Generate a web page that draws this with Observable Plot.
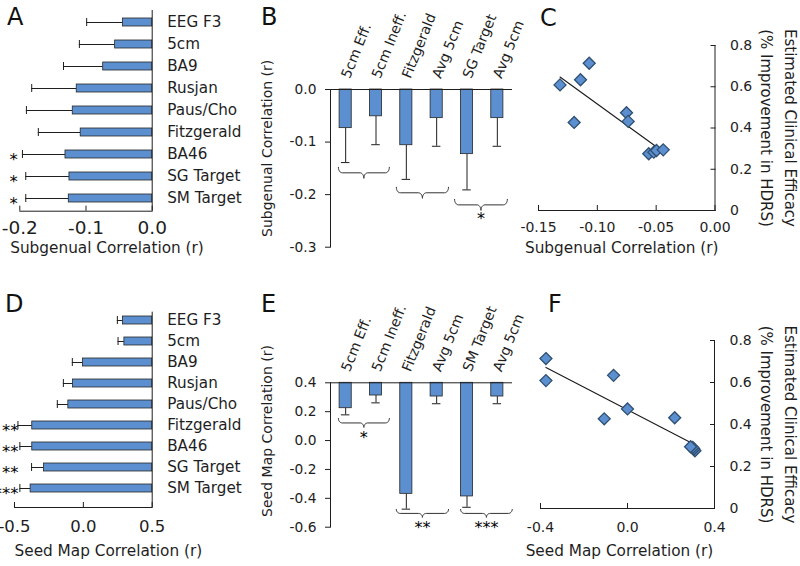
<!DOCTYPE html>
<html><head><meta charset="utf-8">
<script src="https://cdn.jsdelivr.net/npm/d3@7"></script>
<script src="https://cdn.jsdelivr.net/npm/@observablehq/plot@0.6"></script>
<style>
body{margin:0;background:#fff;}
#wrap{position:relative;width:800px;height:566px;overflow:hidden;font-family:"DejaVu Sans",Verdana,sans-serif;background:#fff;}
.letter{position:absolute;font-size:24px;line-height:24px;color:#111;}
</style></head><body><div id="wrap">
<div class="letter" style="left:7px;top:5px">A</div>
<div class="letter" style="left:261px;top:5px">B</div>
<div class="letter" style="left:540px;top:6px">C</div>
<div class="letter" style="left:5px;top:292px">D</div>
<div class="letter" style="left:261px;top:292px">E</div>
<div class="letter" style="left:548px;top:292px">F</div>
</div>
<script>
// ---------- data ----------
const targets = ["EEG F3","5cm","BA9","Rusjan","Paus/Cho","Fitzgerald","BA46","SG Target","SM Target"];
const subgenualR   = [-0.044,-0.056,-0.074,-0.114,-0.120,-0.108,-0.131,-0.125,-0.126];
const subgenualErr = [-0.099,-0.110,-0.134,-0.182,-0.190,-0.172,-0.196,-0.191,-0.191];
const subgenualSig = ["","","","","","","*","*","*"];
const seedMapR   = [0.288,0.298,-0.003,-0.075,-0.109,-0.371,-0.371,-0.286,-0.383];
const seedMapErr = [0.247,0.252,-0.080,-0.145,-0.189,-0.475,-0.461,-0.376,-0.461];
const seedMapSig = ["","","","","","**","**","**","***"];

const compareB     = ["5cm Eff.","5cm Ineff.","Fitzgerald","Avg 5cm","SG Target","Avg 5cm"];
const compareBR    = [-0.0735,-0.051,-0.106,-0.0545,-0.123,-0.0545];
const compareBErr  = [-0.139,-0.105,-0.171,-0.108,-0.191,-0.108];
const compareE     = ["5cm Eff.","5cm Ineff.","Fitzgerald","Avg 5cm","SM Target","Avg 5cm"];
const compareER    = [0.224,0.312,-0.369,0.305,-0.387,0.305];
const compareEErr  = [0.178,0.261,-0.475,0.255,-0.462,0.255];
// significance braces: centre & half-width in bar-index units, top level & depth in r units
const bracesB = [
  {cx:0.60, hw:0.84, top:-0.148, depth:0.021, star:""},
  {cx:2.53, hw:0.86, top:-0.186, depth:0.021, star:""},
  {cx:4.46, hw:0.87, top:-0.209, depth:0.021, star:"*"}];
const bracesE = [
  {cx:0.60, hw:0.84, top:0.153, depth:0.062, star:"*"},
  {cx:2.53, hw:0.86, top:-0.477, depth:0.055, star:"**"},
  {cx:4.64, hw:0.85, top:-0.477, depth:0.055, star:"***"}];

const efficacy         = [0.609,0.714,0.634,0.427,0.474,0.432,0.275,0.283,0.291,0.294];
const subgenualScatter = [-0.1317,-0.1069,-0.1143,-0.1197,-0.0752,-0.0738,-0.0563,-0.0520,-0.0497,-0.0440];
const seedMapScatter   = [-0.375,-0.375,-0.064,-0.107,0.000,0.217,0.310,0.305,0.300,0.290];

const xTicksA = [-0.2,-0.1,0.0];
const xTicksD = [-0.5,0.0,0.5];
const yTicksB = [0.0,-0.1,-0.2,-0.3];
const yTicksE = [0.4,0.2,0.0,-0.2,-0.4,-0.6];
const xTicksC = [-0.15,-0.10,-0.05,0.00];
const xTicksF = [-0.4,0.0,0.4];
const effTicks = [0,0.2,0.4,0.6,0.8];

// ---------- style ----------
const BLUE = "#5b8fcf", EDGE = "#262626", INK = "#1e1e1e", DIAMOND_EDGE = "#2f4f70";
const FONT = '"DejaVu Sans", Verdana, sans-serif';
const STYLE = {fontFamily: FONT, fontSize: "15px", color: INK, background: "transparent", overflow: "visible"};
const wrap = document.getElementById("wrap");
function place(svg, left, top){ svg.style.position="absolute"; svg.style.left=left+"px"; svg.style.top=top+"px"; wrap.appendChild(svg); }
const fmt1 = d => d.toFixed(1);
const fmt2 = d => d.toFixed(2);
const fmtEff = d => d === 0 ? "0" : d.toFixed(1);

// ---------- horizontal bar panels (A, D) ----------
function hbar({values, errs, sigs, domain, ticks, base, title, W, H, mL, mR, mT, mB, pI, pO, align, tickPad, tickFont, starDx, titleDx, titleDy}) {
  const data = targets.map((t,k)=>({t, r: values[k], e: errs[k], s: sigs[k]}));
  return Plot.plot({
    width: W, height: H, marginLeft: mL, marginRight: mR, marginTop: mT, marginBottom: mB,
    style: STYLE,
    x: {domain},
    y: {domain: targets, paddingInner: pI, paddingOuter: pO, align},
    marks: [
      Plot.ruleY(data, {y:"t", x1:"r", x2:"e", stroke: INK}),
      Plot.tickX(data, {x:"e", y:"t", stroke: INK}),
      Plot.barX(data, {y:"t", x1: base, x2:"r", fill: BLUE, stroke: EDGE, strokeWidth: 0.8}),
      Plot.ruleX([base], {stroke: INK}),
      Plot.frame({anchor:"bottom", stroke: INK}),
      Plot.axisX({ticks, tickSize:5, dy:-5, tickFormat: () => "", label:null, stroke: INK}),
      Plot.axisX({ticks, tickSize:0, tickPadding: tickPad, tickFormat: fmt1, fontSize: tickFont, label:null, fill: INK}),
      Plot.axisY({anchor:"right", tickSize:0, tickPadding:15, fontSize:15.2, label:null, fill: INK}),
      Plot.text(data.filter(d=>d.s), {y:"t", text:"s", frameAnchor:"left", textAnchor:"end", lineAnchor:"middle", dx: starDx, dy:5, fontSize:16.5, fill: "#000"}),
      Plot.text([title], {frameAnchor:"bottom", textAnchor:"middle", lineAnchor:"middle", dx: titleDx, dy: titleDy, fontSize:15.3, fill: INK})
    ]
  });
}

// ---------- vertical comparison panels (B, E) ----------
function bracePath(b, id) {
  const r = 0.15, pts = [];
  const P = (u, v) => pts.push({id, x: b.cx + u*b.hw, y: b.top - v*b.depth});
  const n = 8;
  for (let k=0;k<=n;k++){ const t=Math.PI - k*(Math.PI/2)/n; P((-1+r)+r*Math.cos(t), 0.5*Math.sin(t)); }
  for (let k=0;k<=n;k++){ const t=-Math.PI/2 + k*(Math.PI/2)/n; P(-r+r*Math.cos(t), 1+0.5*Math.sin(t)); }
  for (let k=n;k>=0;k--){ const t=-Math.PI/2 + k*(Math.PI/2)/n; P(r-r*Math.cos(t), 1+0.5*Math.sin(t)); }
  for (let k=n;k>=0;k--){ const t=Math.PI - k*(Math.PI/2)/n; P((1-r)-r*Math.cos(t), 0.5*Math.sin(t)); }
  return pts;
}
function vbar({labels, values, errs, braces, domain, yTicks, base, title, W, H, mL, mR, mT, mB, titleDx, titleDy, starDy}) {
  const data = labels.map((t,i)=>({i, t, r: values[i], e: errs[i]}));
  const braceData = braces.flatMap((b,k)=>bracePath(b,k));
  return Plot.plot({
    width: W, height: H, marginLeft: mL, marginRight: mR, marginTop: mT, marginBottom: mB,
    style: STYLE,
    x: {domain: [-0.5, labels.length - 0.5]},
    y: {domain},
    marks: [
      Plot.ruleX(data, {x:"i", y1:"r", y2:"e", stroke: INK}),
      Plot.ruleY(data, {y:"e", x1: d=>d.i-0.14, x2: d=>d.i+0.14, stroke: INK}),
      Plot.rect(data, {x1: d=>d.i-0.2, x2: d=>d.i+0.2, y1: base, y2:"r", fill: BLUE, stroke: EDGE, strokeWidth: 0.8}),
      Plot.ruleY([base], {stroke: INK}),
      Plot.frame({anchor:"left", stroke: INK}),
      Plot.axisY({ticks: yTicks, tickSize:5, tickPadding:9, tickFormat: fmt1, fontSize:13.8, label:null, fill: INK, stroke: INK}),
      Plot.axisX({anchor:"top", ticks: d3.range(labels.length), tickFormat: i => labels[i], tickSize:0, tickPadding:12, tickRotate:-68, fontSize:14, label:null, fill: INK}),
      Plot.line(braceData, {x:"x", y:"y", z:"id", stroke: "#333", strokeWidth: 1}),
      Plot.text(braces.filter(b=>b.star), {x:"cx", y: b => b.top - b.depth, text:"star", lineAnchor:"top", dy: starDy, fontSize:16, fill: "#000"}),
      Plot.text([title], {frameAnchor:"left", textAnchor:"middle", lineAnchor:"middle", rotate:-90, dx: titleDx, dy: titleDy, fontSize:14, fill: INK})
    ]
  });
}

// ---------- scatter panels (C, F) ----------
function scatter({xs, domain, ticks, tickFmt, title, W, H, mL, mR, mT, mB, tickPad, titleDx, titleDy}) {
  const data = xs.map((x,k)=>({x, y: efficacy[k]}));
  return Plot.plot({
    width: W, height: H, marginLeft: mL, marginRight: mR, marginTop: mT, marginBottom: mB,
    style: STYLE,
    x: {domain},
    y: {domain: [0, 0.8]},
    marks: [
      Plot.frame({anchor:"bottom", stroke: INK}),
      Plot.frame({anchor:"right", stroke: INK}),
      Plot.axisX({ticks, tickSize:5, dy:-5, tickFormat: () => "", label:null, stroke: INK}),
      Plot.axisX({ticks, tickSize:0, tickPadding: tickPad, tickFormat: tickFmt, fontSize:14, label:null, fill: INK}),
      Plot.axisY({anchor:"right", ticks: effTicks, tickSize:5, dx:-5, tickFormat: () => "", label:null, stroke: INK}),
      Plot.axisY({anchor:"right", ticks: effTicks, tickSize:0, tickPadding:15, tickFormat: fmtEff, fontSize:14, label:null, fill: INK}),
      Plot.linearRegressionY(data, {x:"x", y:"y", stroke: "#1a1a1a", strokeWidth: 1.1, ci: 0}),
      Plot.dot(data, {x:"x", y:"y", symbol:"diamond2", r: 5.4, fill: BLUE, stroke: DIAMOND_EDGE, strokeWidth: 1.3}),
      Plot.text([title], {frameAnchor:"bottom", textAnchor:"middle", lineAnchor:"middle", dx: titleDx, dy: titleDy, fontSize:15.3, fill: INK}),
      Plot.text(["Estimated Clinical Efficacy"], {frameAnchor:"right", textAnchor:"middle", lineAnchor:"middle", rotate:90, dx: 75, fontSize:15, fill: INK}),
      Plot.text(["(% Improvement in HDRS)"], {frameAnchor:"right", textAnchor:"middle", lineAnchor:"middle", rotate:90, dx: 51, fontSize:15, fill: INK})
    ]
  });
}

place(hbar({values: subgenualR, errs: subgenualErr, sigs: subgenualSig, domain: [-0.2, 0], ticks: xTicksA, base: 0,
  title: "Subgenual Correlation (r)", W: 260, H: 280, mL: 19.3, mR: 108.3, mT: 10, mB: 69.3,
  pI: 0.64, pO: 0.347, align: 0.5, tickPad: 10, tickFont: 18.5, starDx: -2, titleDx: 21, titleDy: 37.3}), 0, 0);

place(vbar({labels: compareB, values: compareBR, errs: compareBErr, braces: bracesB, domain: [-0.3, 0], yTicks: yTicksB, base: 0,
  title: "Subgenual Correlation (r)", W: 280, H: 280, mL: 80, mR: 18, mT: 89, mB: 33.3, titleDx: -63, titleDy: -20, starDy: 2}), 250, 0);

place(scatter({xs: subgenualScatter, domain: [-0.15, 0], ticks: xTicksC, tickFmt: fmt2, title: "Subgenual Correlation (r)",
  W: 270, H: 280, mL: 8, mR: 85.5, mT: 45, mB: 70, tickPad: 12, titleDx: -5, titleDy: 38}), 530, 0);

place(hbar({values: seedMapR, errs: seedMapErr, sigs: seedMapSig, domain: [-0.5, 0.5], ticks: xTicksD, base: 0.5,
  title: "Seed Map Correlation (r)", W: 260, H: 286, mL: 14, mR: 108.3, mT: 31.7, mB: 59, pI: 0.611, pO: 0.384, align: 0.25,
  tickPad: 13, tickFont: 16.5, starDx: 4, titleDx: 25, titleDy: 44}), 0, 280);

place(vbar({labels: compareE, values: compareER, errs: compareEErr, braces: bracesE, domain: [-0.6, 0.4], yTicks: yTicksE, base: 0.4,
  title: "Seed Map Correlation (r)", W: 280, H: 286, mL: 80, mR: 18, mT: 102.3, mB: 39.3, titleDx: -63, titleDy: -24, starDy: 4}), 250, 280);

place(scatter({xs: seedMapScatter, domain: [-0.4, 0.4], ticks: xTicksF, tickFmt: fmt1, title: "Seed Map Correlation (r)",
  W: 270, H: 286, mL: 10, mR: 86, mT: 60, mB: 58, tickPad: 14, titleDx: -8, titleDy: 43}), 530, 280);
</script></body></html>
